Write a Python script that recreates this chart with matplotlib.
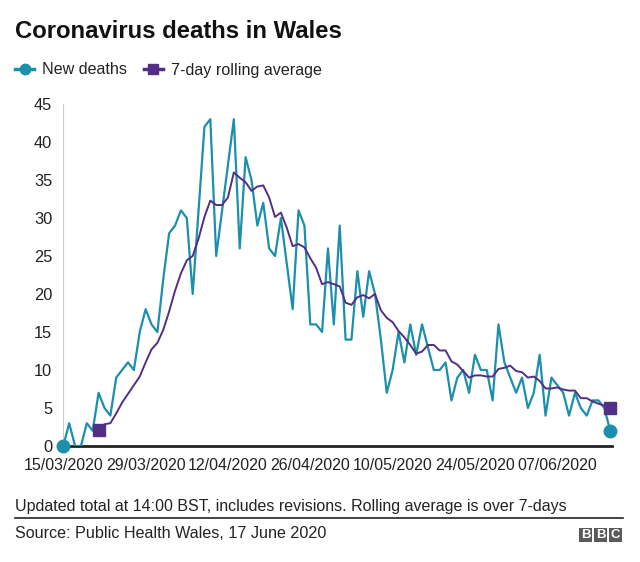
import datetime as dt
import matplotlib
matplotlib.use("Agg")
import matplotlib.pyplot as plt
from matplotlib.lines import Line2D
from matplotlib.patches import Rectangle

plt.rcParams['font.family'] = ['Liberation Sans', 'DejaVu Sans']

# daily deaths from 15/03/2020 to 16/06/2020
start = dt.date(2020, 3, 15)
new_deaths = [0, 3, 0, 0, 3, 2, 7, 5, 4, 9, 10, 11, 10, 15, 18, 16, 15, 22, 28, 29,
              31, 30, 20, 31, 42, 43, 25, 31, 37, 43, 26, 38, 35, 29, 32, 26, 25, 30,
              24, 18, 31, 29, 16, 16, 15, 26, 16, 29, 14, 14, 23, 17, 23, 20, 14, 7,
              10, 15, 11, 16, 12, 16, 13, 10, 10, 11, 6, 9, 10, 7, 12, 10, 10, 6, 16,
              11, 9, 7, 9, 5, 7, 12, 4, 9, 8, 7, 4, 7, 5, 4, 6, 6, 5, 2]
# 7-day rolling average, first value on 21/03/2020
rolling_avg = [2.14, 2.86, 3.0, 4.29, 5.71, 6.86, 8.0, 9.14, 11.0, 12.71, 13.57,
               15.29, 17.71, 20.43, 22.71, 24.43, 25.0, 27.29, 30.14, 32.29, 31.71,
               31.71, 32.71, 36.0, 35.29, 34.71, 33.57, 34.14, 34.29, 32.71, 30.14,
               30.71, 28.71, 26.29, 26.57, 26.14, 24.71, 23.43, 21.29, 21.57, 21.29,
               21.0, 18.86, 18.57, 19.57, 19.86, 19.43, 20.0, 17.86, 16.86, 16.29,
               15.14, 14.29, 13.29, 12.14, 12.43, 13.29, 13.29, 12.57, 12.57, 11.14,
               10.71, 9.86, 9.0, 9.29, 9.29, 9.14, 9.14, 10.14, 10.29, 10.57, 9.86,
               9.71, 9.0, 9.14, 8.57, 7.57, 7.57, 7.71, 7.43, 7.29, 7.29, 6.29, 6.29,
               5.86, 5.57, 5.29, 5.0]
tick_labels = ["15/03/2020", "29/03/2020", "12/04/2020", "26/04/2020",
               "10/05/2020", "24/05/2020", "07/06/2020"]
y_ticks = [0, 5, 10, 15, 20, 25, 30, 35, 40, 45]

teal = "#1b8fab"
purple = "#522f84"

days = list(range(len(new_deaths)))
avg_days = list(range(len(new_deaths) - len(rolling_avg), len(new_deaths)))
tick_pos = [(dt.datetime.strptime(t, "%d/%m/%Y").date() - start).days for t in tick_labels]

fig = plt.figure(figsize=(6.4, 5.62), dpi=100)
ax = fig.add_axes([63.3 / 640, 116 / 562, 548.7 / 640, 342 / 562])

ax.plot(days, new_deaths, color=teal, lw=1.6, zorder=3)
ax.plot(avg_days, rolling_avg, color=purple, lw=1.4, zorder=4)
ax.plot([days[0], days[-1]], [new_deaths[0], new_deaths[-1]], 'o', color=teal,
        ms=9, clip_on=False, zorder=5)
ax.plot([avg_days[0], avg_days[-1]], [rolling_avg[0], rolling_avg[-1]], 's',
        color=purple, ms=9, clip_on=False, zorder=6)

ax.set_xlim(0, 93.3)
ax.set_ylim(0, 45)
ax.set_yticks(y_ticks)
ax.set_xticks(tick_pos)
ax.set_xticklabels(tick_labels)
ax.tick_params(length=0, colors="#222222")
ax.tick_params(axis='y', pad=8, labelsize=11.8)
ax.tick_params(axis='x', pad=9, labelsize=11.5)
for s in ['top', 'right']:
    ax.spines[s].set_visible(False)
ax.spines['left'].set_color("#cccccc")
ax.spines['left'].set_linewidth(0.8)
ax.spines['bottom'].set_color("#222222")
ax.spines['bottom'].set_linewidth(2)
ax.spines['bottom'].set_zorder(2)

fig.text(15 / 640, 1 - 32 / 562, "Coronavirus deaths in Wales", fontsize=17.2,
         fontweight='bold', va='center', ha='left', color="#111111")

handles = [Line2D([], [], color=teal, lw=2.5, marker='o', ms=7.5),
           Line2D([], [], color=purple, lw=2.5, marker='s', ms=7.5)]
fig.legend(handles, ["New deaths", "7-day rolling average"], loc='center left',
           bbox_to_anchor=(15 / 640, 1 - 70 / 562), ncol=2, frameon=False,
           fontsize=11.6, handlelength=1.2, handletextpad=0.5, columnspacing=1.0,
           borderpad=0, borderaxespad=0, labelcolor="#222222")

fig.text(15 / 640, 1 - 507 / 562,
         "Updated total at 14:00 BST, includes revisions. Rolling average is over 7-days",
         fontsize=11.5, va='center', ha='left', color="#222222")
fig.add_artist(Line2D([15 / 640, 623 / 640], [1 - 518 / 562, 1 - 518 / 562],
                      color="#222222", lw=1.2))
fig.text(15 / 640, 1 - 533 / 562, "Source: Public Health Wales, 17 June 2020",
         fontsize=11.6, va='center', ha='left', color="#222222")

# BBC blocks
for i, letter in enumerate("BBC"):
    x0 = 579 + i * 15
    fig.add_artist(Rectangle((x0 / 640, 1 - 542 / 562), 13 / 640, 14 / 562,
                             transform=fig.transFigure, color="#5a5a5a", lw=0))
    fig.text((x0 + 6.5) / 640, 1 - 535 / 562, letter, fontsize=9.5,
             fontweight='bold', color='white', ha='center', va='center')

fig.savefig("out.png", dpi=100, facecolor='white')
